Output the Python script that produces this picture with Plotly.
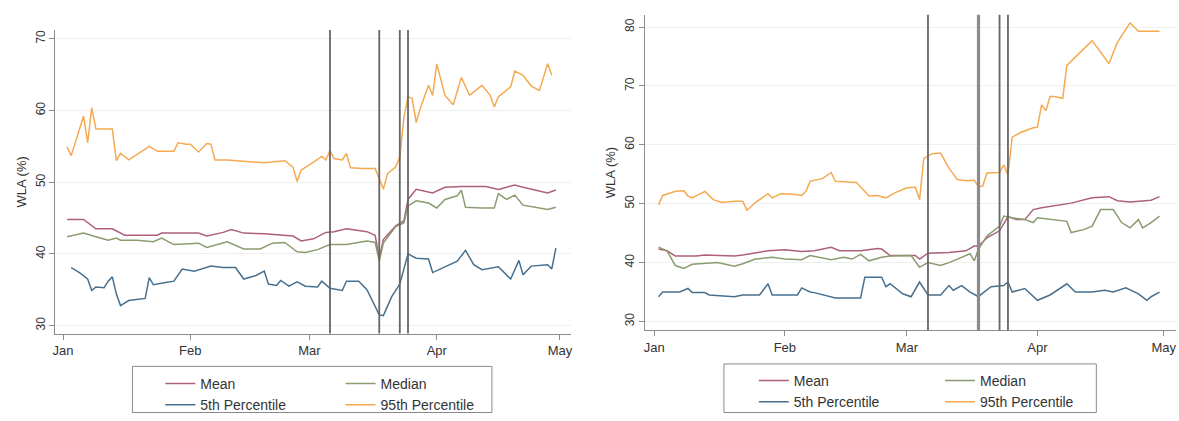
import plotly.graph_objects as go

# event dates (vertical reference lines), same on both panels
event_dates = ["03-06", "03-18", "03-23", "03-25"]

# ---- left panel ----
l_mean_d = ["01-02", "01-06", "01-09", "01-13", "01-16", "01-24", "01-25", "02-03", "02-05", "02-09",
            "02-11", "02-14", "02-19", "02-26", "02-28", "03-02", "03-05", "03-07", "03-10", "03-15",
            "03-17", "03-18", "03-19", "03-22", "03-24", "03-25", "03-27", "03-29", "03-31", "04-03",
            "04-07", "04-13", "04-16", "04-18", "04-20", "04-22", "04-24", "04-28", "04-30"]
l_mean = [44.8, 44.8, 43.5, 43.5, 42.6, 42.6, 42.9, 42.9, 42.5, 43.0,
          43.4, 42.9, 42.8, 42.5, 41.8, 42.1, 43.0, 43.1, 43.5, 43.1,
          42.6, 39.4, 42.0, 43.9, 44.6, 47.6, 49.0, 48.8, 48.5, 49.3,
          49.4, 49.4, 49.0, 49.3, 49.6, 49.3, 49.0, 48.5, 48.9]

l_med_d = ["01-02", "01-06", "01-09", "01-12", "01-14", "01-15", "01-19", "01-23", "01-25", "01-28",
           "02-03", "02-05", "02-10", "02-14", "02-18", "02-21", "02-24", "02-27", "02-29", "03-03",
           "03-06", "03-10", "03-15", "03-17", "03-18", "03-19", "03-22", "03-24", "03-25", "03-27",
           "03-30", "04-01", "04-03", "04-06", "04-07", "04-08", "04-12", "04-15", "04-16", "04-18",
           "04-20", "04-22", "04-26", "04-28", "04-30"]
l_med = [42.4, 42.9, 42.4, 41.9, 42.2, 41.9, 41.9, 41.7, 42.2, 41.3,
         41.5, 40.9, 41.7, 40.7, 40.7, 41.5, 41.6, 40.3, 40.2, 40.6,
         41.3, 41.3, 41.8, 41.6, 39.0, 41.5, 43.8, 44.3, 46.7, 47.4,
         47.1, 46.4, 47.6, 48.1, 48.9, 46.5, 46.4, 46.4, 48.4, 47.6,
         48.2, 46.8, 46.4, 46.2, 46.5]

l_p5_d = ["01-03", "01-05", "01-07", "01-08", "01-09", "01-11", "01-12", "01-13", "01-14", "01-15",
          "01-17", "01-21", "01-22", "01-23", "01-26", "01-28", "01-30", "02-02", "02-06", "02-09",
          "02-12", "02-14", "02-17", "02-19", "02-20", "02-22", "02-23", "02-25", "02-27", "02-29",
          "03-03", "03-04", "03-06", "03-09", "03-10", "03-13", "03-15", "03-18", "03-19", "03-21",
          "03-23", "03-25", "03-27", "03-30", "03-31", "04-03", "04-06", "04-08", "04-10", "04-12",
          "04-16", "04-19", "04-21", "04-22", "04-24", "04-28", "04-29", "04-30"]
l_p5 = [38.1, 37.4, 36.5, 34.9, 35.4, 35.3, 36.2, 36.8, 34.4, 32.8,
        33.5, 33.8, 36.7, 35.7, 36.0, 36.2, 37.9, 37.6, 38.3, 38.1,
        38.1, 36.5, 37.0, 37.6, 35.8, 35.6, 36.3, 35.5, 36.1, 35.5,
        35.4, 36.2, 35.2, 34.9, 36.2, 36.2, 35.0, 31.5, 31.4, 34.0,
        35.8, 40.0, 39.4, 39.3, 37.4, 38.2, 39.0, 40.5, 38.5, 37.8,
        38.2, 36.5, 39.1, 37.1, 38.3, 38.5, 37.9, 40.8]

l_p95_d = ["01-02", "01-03", "01-06", "01-07", "01-08", "01-09", "01-13", "01-14", "01-15", "01-16",
           "01-17", "01-22", "01-24", "01-28", "01-29", "01-31", "02-01", "02-03", "02-05", "02-06",
           "02-07", "02-10", "02-15", "02-19", "02-24", "02-26", "02-27", "02-28", "03-02", "03-04",
           "03-05", "03-06", "03-07", "03-09", "03-10", "03-11", "03-14", "03-17", "03-18", "03-19",
           "03-20", "03-22", "03-23", "03-24", "03-25", "03-26", "03-27", "03-28", "03-30", "03-31",
           "04-01", "04-03", "04-05", "04-07", "04-09", "04-12", "04-14", "04-15", "04-16", "04-19",
           "04-20", "04-22", "04-24", "04-26", "04-28", "04-29"]
l_p95 = [54.9, 53.7, 59.2, 55.5, 60.4, 57.4, 57.4, 53.0, 54.0, 53.5,
         53.1, 55.0, 54.3, 54.3, 55.5, 55.3, 55.3, 54.2, 55.4, 55.3,
         53.1, 53.1, 52.9, 52.7, 53.0, 52.1, 50.1, 51.7, 52.8, 53.6,
         53.1, 54.4, 53.3, 53.1, 54.0, 52.0, 51.9, 51.9, 50.5, 49.0,
         51.2, 52.1, 53.5, 59.0, 61.9, 61.7, 58.3, 60.3, 63.5, 62.1,
         66.5, 62.1, 60.8, 64.6, 62.1, 63.5, 62.1, 60.5, 61.9, 63.3,
         65.5, 64.9, 63.4, 62.8, 66.5, 64.9]

# ---- right panel ----
r_mean_d = ["01-02", "01-04", "01-06", "01-11", "01-13", "01-20", "01-22", "01-25", "01-28", "02-01",
            "02-05", "02-08", "02-12", "02-14", "02-19", "02-23", "02-24", "02-26", "03-03", "03-04",
            "03-06", "03-11", "03-15", "03-17", "03-18", "03-20", "03-23", "03-25", "03-27", "03-29",
            "03-31", "04-02", "04-05", "04-09", "04-14", "04-18", "04-20", "04-23", "04-28", "04-30"]
r_mean = [42.3, 42.0, 41.1, 41.1, 41.3, 41.1, 41.3, 41.6, 42.0, 42.2,
          41.9, 42.0, 42.6, 42.0, 42.0, 42.4, 42.3, 41.2, 41.2, 40.6,
          41.6, 41.7, 42.0, 42.8, 42.8, 44.2, 45.4, 47.8, 47.3, 47.3,
          49.0, 49.3, 49.6, 50.1, 51.0, 51.2, 50.5, 50.3, 50.6, 51.2]

r_med_d = ["01-02", "01-04", "01-06", "01-08", "01-10", "01-13", "01-16", "01-20", "01-22", "01-25",
           "01-29", "02-01", "02-05", "02-07", "02-12", "02-15", "02-17", "02-19", "02-21", "02-24",
           "02-26", "03-02", "03-04", "03-06", "03-09", "03-11", "03-13", "03-16", "03-17", "03-18",
           "03-20", "03-23", "03-24", "03-26", "03-29", "03-31", "04-01", "04-05", "04-08", "04-09",
           "04-12", "04-14", "04-16", "04-19", "04-21", "04-23", "04-25", "04-26", "04-28", "04-30"]
r_med = [42.6, 42.0, 39.5, 39.0, 39.7, 39.8, 40.0, 39.4, 39.8, 40.6,
         40.9, 40.6, 40.5, 41.2, 40.5, 40.9, 40.6, 41.4, 40.3, 40.9,
         41.1, 41.2, 39.2, 40.0, 39.5, 40.0, 40.6, 41.5, 40.3, 42.3,
         44.5, 46.2, 47.9, 47.6, 47.3, 46.8, 47.6, 47.3, 47.0, 45.1,
         45.6, 46.2, 49.0, 49.0, 46.8, 45.9, 47.3, 45.9, 46.8, 47.9]

r_p5_d = ["01-02", "01-03", "01-07", "01-09", "01-10", "01-13", "01-14", "01-20", "01-22", "01-26",
          "01-28", "01-29", "02-04", "02-05", "02-07", "02-08", "02-13", "02-19", "02-20", "02-24",
          "02-25", "02-26", "02-29", "03-02", "03-04", "03-06", "03-09", "03-11", "03-12", "03-14",
          "03-16", "03-18", "03-19", "03-21", "03-24", "03-25", "03-26", "03-29", "04-01", "04-04",
          "04-08", "04-10", "04-14", "04-17", "04-19", "04-22", "04-25", "04-27", "04-28", "04-30"]
r_p5 = [34.2, 35.0, 35.0, 35.6, 34.9, 34.9, 34.5, 34.2, 34.5, 34.5,
        36.4, 34.5, 34.5, 35.7, 35.0, 34.9, 34.0, 34.0, 37.5, 37.5,
        35.9, 36.4, 34.7, 34.2, 36.7, 34.5, 34.5, 36.1, 35.3, 36.1,
        35.0, 34.2, 34.8, 35.9, 36.1, 36.7, 35.0, 35.6, 33.6, 34.5,
        36.4, 35.0, 35.0, 35.3, 35.0, 35.7, 34.7, 33.6, 34.2, 35.0]

r_p95_d = ["01-02", "01-03", "01-06", "01-08", "01-09", "01-10", "01-13", "01-15", "01-17", "01-20",
           "01-22", "01-23", "01-25", "01-28", "01-29", "01-31", "02-03", "02-05", "02-06", "02-07",
           "02-10", "02-12", "02-13", "02-18", "02-21", "02-23", "02-25", "02-27", "03-01", "03-03",
           "03-04", "03-05", "03-07", "03-09", "03-11", "03-13", "03-15", "03-17", "03-18", "03-19",
           "03-20", "03-23", "03-24", "03-25", "03-26", "03-28", "03-31", "04-01", "04-02", "04-03",
           "04-04", "04-05", "04-07", "04-08", "04-10", "04-14", "04-18", "04-20", "04-23", "04-25",
           "04-30"]
r_p95 = [49.8, 51.4, 52.1, 52.2, 51.3, 51.0, 52.1, 50.7, 50.2, 50.4,
         50.4, 48.9, 50.2, 51.7, 51.0, 51.7, 51.6, 51.4, 52.1, 53.8,
         54.3, 55.3, 53.8, 53.6, 51.3, 51.4, 51.0, 51.8, 52.7, 52.8,
         50.7, 57.7, 58.5, 58.6, 56.0, 54.1, 53.9, 54.0, 52.9, 53.0,
         55.2, 55.3, 56.6, 54.9, 61.3, 62.1, 62.9, 63.0, 66.8, 65.8,
         68.2, 68.2, 67.9, 73.5, 74.9, 77.7, 73.8, 77.4, 80.7, 79.3,
         79.3]

series_names = ["Mean", "Median", "5th Percentile", "95th Percentile"]
series_colors = ["#ad6079", "#8a9c70", "#47708f", "#f5aa52"]

FONT = "Liberation Sans, Arial, sans-serif"
W, H = 1179, 421


def X(dates):
    return ["2020-" + d for d in dates]


fig = go.Figure()

panels = [
    ("x", "y", [(l_mean_d, l_mean), (l_med_d, l_med), (l_p5_d, l_p5), (l_p95_d, l_p95)],
     ["legend", "legend2", "legend", "legend2"]),
    ("x2", "y2", [(r_mean_d, r_mean), (r_med_d, r_med), (r_p5_d, r_p5), (r_p95_d, r_p95)],
     ["legend3", "legend4", "legend3", "legend4"]),
]
for xa, ya, data, legs in panels:
    for i, (d, v) in enumerate(data):
        fig.add_trace(go.Scatter(
            x=X(d), y=v, mode="lines", name=series_names[i],
            line=dict(color=series_colors[i], width=1.5),
            xaxis=xa, yaxis=ya, legend=legs[i], hoverinfo="skip"))

# vertical event lines
line_style = {"x": [(1.8, "#666666")] * 4,
              "x2": [(1.8, "#666666"), (3.2, "#8c8c8c"), (1.8, "#666666"), (1.8, "#666666")]}
for xa, ya in [("x", "y"), ("x2", "y2")]:
    for k, d in enumerate(event_dates):
        w, c = line_style[xa][k]
        fig.add_shape(type="line", xref=xa, yref=ya + " domain",
                      x0="2020-" + d, x1="2020-" + d, y0=0, y1=1,
                      line=dict(color=c, width=w), layer="above")

# legend frames
for x0, y0, x1, y1 in [(130, 373.5, 491, 420.5), (724, 371, 1098, 420.5)]:
    fig.add_shape(type="rect", xref="paper", yref="paper",
                  x0=x0 / W, x1=x1 / W, y0=1 - y0 / H, y1=1 - y1 / H,
                  line=dict(color="#8a8a8a", width=1), fillcolor="rgba(0,0,0,0)")

axis_common = dict(showline=True, linecolor="#8c8c8c", linewidth=1, ticks="outside",
                   tickcolor="#8c8c8c", ticklen=5, zeroline=False)
xcommon = dict(axis_common, type="date", tickformat="%b", dtick="M1",
               tick0="2020-01-01", showgrid=False,
               tickfont=dict(family=FONT, size=13, color="#333333"))
ycommon = dict(axis_common, dtick=10, tickangle=-90, showgrid=True,
               gridcolor="#efefef", gridwidth=1,
               tickfont=dict(family=FONT, size=12, color="#333333"),
               title=dict(text="WLA (%)", font=dict(family=FONT, size=13, color="#333333"),
                          standoff=4))

legend_common = dict(bgcolor="rgba(0,0,0,0)", borderwidth=0, xanchor="left", yanchor="top",
                     font=dict(family=FONT, size=14, color="#333333"), tracegroupgap=0,
                     orientation="v")

fig.update_layout(
    width=W, height=H, margin=dict(l=0, r=0, t=0, b=0),
    paper_bgcolor="white", plot_bgcolor="white",
    xaxis=dict(xcommon, domain=[52.7 / W, 570 / W], anchor="y",
               range=["2019-12-30 04:00", "2020-05-03 14:00"]),
    yaxis=dict(ycommon, domain=[1 - 340 / H, 1 - 30.7 / H], anchor="x", range=[28.9, 71.2]),
    xaxis2=dict(xcommon, domain=[644.6 / W, 1178 / W], anchor="y2",
                range=["2019-12-29 18:00", "2020-05-03 22:00"]),
    yaxis2=dict(ycommon, domain=[1 - 336.7 / H, 1 - 15 / H], anchor="x2", range=[28.5, 82.1]),
    legend=dict(legend_common, x=158 / W, y=1 - 375 / H),
    legend2=dict(legend_common, x=339 / W, y=1 - 375 / H),
    legend3=dict(legend_common, x=754 / W, y=1 - 372 / H),
    legend4=dict(legend_common, x=941 / W, y=1 - 372 / H),
    showlegend=True,
)

fig.write_html("out.html", config={"displayModeBar": False},
               post_script="document.body.style.margin='0';")
